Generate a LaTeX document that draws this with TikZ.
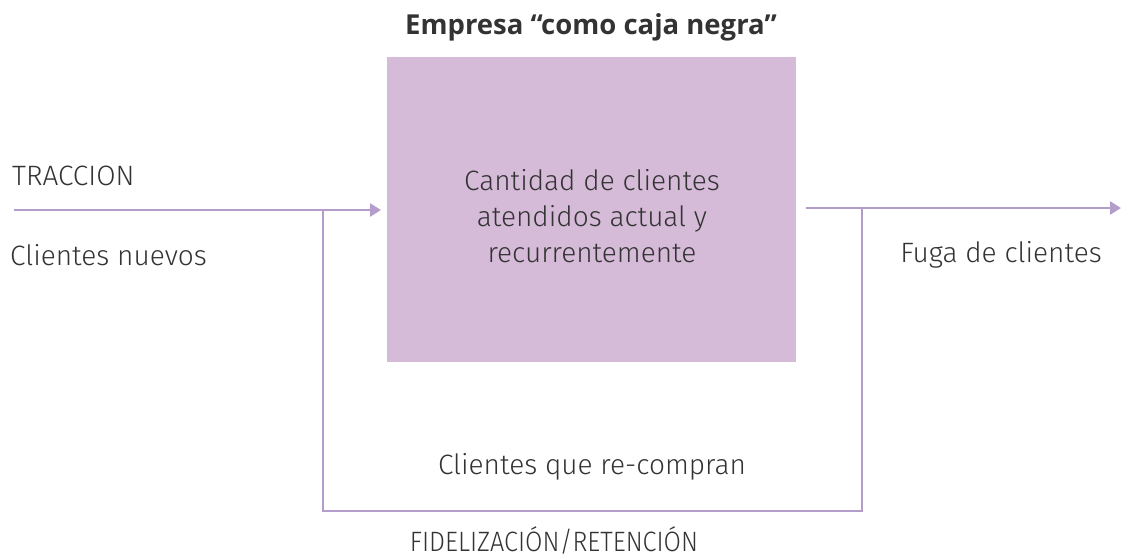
\documentclass[tikz,border=0pt]{standalone}
\usepackage{fontspec}
\setmainfont{Fira Sans}[UprightFont=* Light, BoldFont=* Medium]
\newfontfamily\titlefont{Open Sans}
\usetikzlibrary{arrows.meta}
\definecolor{boxfill}{HTML}{D6BBD9}
\definecolor{lineC}{HTML}{B59DCB}
\definecolor{txt}{HTML}{333333}
\tikzset{
  flow/.style={draw=lineC, line width=2.6pt},
  arr/.style={flow, -{Triangle[length=11pt,width=13pt]}},
  lbl/.style={text=txt, font=\fontsize{28}{34}\selectfont, inner sep=0pt},
}
\begin{document}
\begin{tikzpicture}[x=1pt,y=-1pt]
\useasboundingbox (0,0) rectangle (1121,558);
\node[fill=boxfill, minimum width=409pt, minimum height=305pt, inner sep=0pt, anchor=north west] (box) at (387,57) {};
\node[lbl, align=center, font=\fontsize{28}{36}\selectfont] (boxtxt) at (592,216) {Cantidad de clientes\\atendidos actual y\\recurrentemente};
\node[lbl, font=\titlefont\bfseries\fontsize{27.5}{32}\selectfont] (title) at (591,27) {Empresa “como caja negra”};
\coordinate (lin) at (14,210);
\coordinate (ltip) at (381,210);
\coordinate (jl) at (323,210);
\coordinate (bl) at (323,511);
\coordinate (br) at (862,511);
\coordinate (jr) at (862,208);
\coordinate (rout) at (806,208);
\coordinate (rtip) at (1121,208);
\draw[arr] (lin) -- (ltip);
\draw[arr] (rout) -- (rtip);
\draw[flow] (jl) -- (bl) -- (br) -- (jr);
\node[lbl, anchor=west] (trac) at (12,176) {TRACCION};
\node[lbl, anchor=west] (nuevos) at (10,255) {Clientes nuevos};
\node[lbl] (fuga) at (1001,255) {Fuga de clientes};
\node[lbl] (recompra) at (592,467) {Clientes que re-compran};
\node[lbl, anchor=base, xscale=0.9] (fidel) at (554,551) {FIDELIZACIÓN/RETENCIÓN};
\end{tikzpicture}
\end{document}
